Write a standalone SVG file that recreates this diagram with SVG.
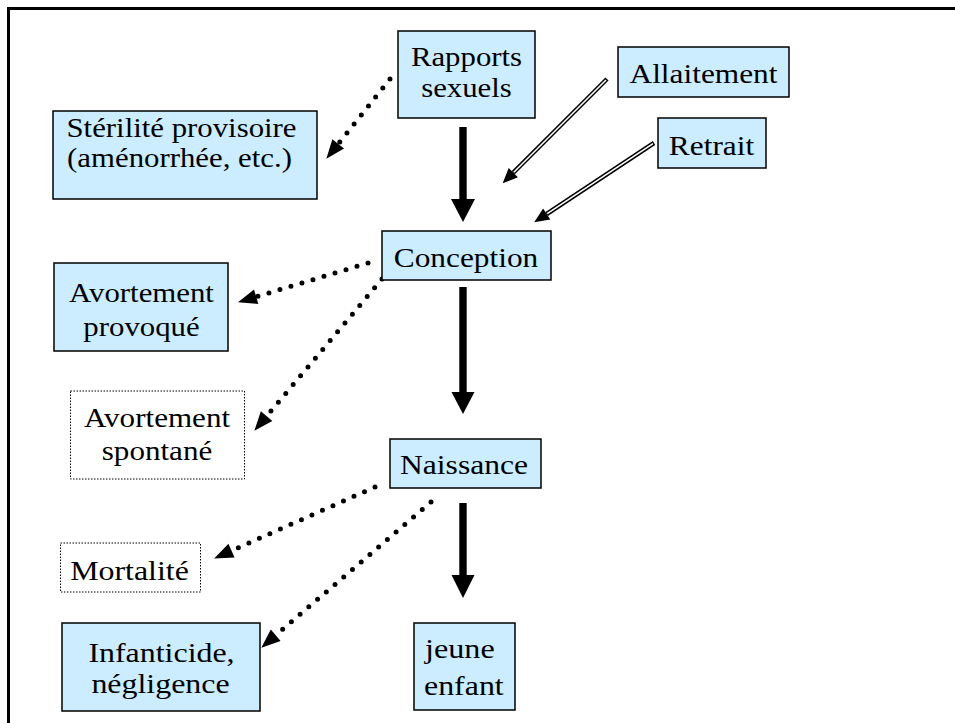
<svg xmlns="http://www.w3.org/2000/svg" width="955" height="723" viewBox="0 0 955 723">
<style>
.bx{fill:#CCECFF;stroke:#000;stroke-width:1.5}
.dbx{fill:#fff;stroke:#000;stroke-width:1;stroke-dasharray:1.5 1.5}
.t{font-family:"Liberation Serif","Times New Roman",serif;font-size:28px;fill:#000;text-anchor:middle}
.ts{text-anchor:start}
.dot{fill:none;stroke:#000;stroke-width:5;stroke-linecap:round;stroke-dasharray:0 11.5}
.dblo{fill:none;stroke:#000;stroke-width:4.5}
.dbli{fill:none;stroke:#fff;stroke-width:1.6}
.thick{fill:#000}
</style>
<defs>
<marker id="dh" markerUnits="userSpaceOnUse" markerWidth="20" markerHeight="16" viewBox="0 -8 19 16" refX="0" refY="0" orient="auto" overflow="visible">
<path d="M0,-7.5 L19,0 L0,7.5 z" fill="#000"/>
</marker>
<marker id="ah" markerUnits="userSpaceOnUse" markerWidth="16" markerHeight="14" viewBox="0 -7 15 14" refX="0" refY="0" orient="auto" overflow="visible">
<path d="M0,-6.5 L15,0 L0,6.5 z" fill="#000"/>
</marker>
</defs>
<rect x="8.5" y="8.5" width="1000" height="1000" fill="#fff" stroke="#000" stroke-width="3"/>

<g id="connectors">
<polygon class="thick" points="459.3,127 466.7,127 466.7,199 475,199 463,222 451,199 459.3,199"/>
<polygon class="thick" points="459.3,287 466.7,287 466.7,392 474.5,392 463,414 451.5,392 459.3,392"/>
<polygon class="thick" points="459.3,503 466.7,503 466.7,575 474.5,575 463,598 451.5,575 459.3,575"/>
<path class="dot" d="M390,79 L338.2,143.9" marker-end="url(#dh)"/>
<path class="dot" d="M368,263 L256.2,296.8" marker-end="url(#dh)"/>
<path class="dot" d="M382,279 L266.6,416.2" marker-end="url(#dh)"/>
<path class="dot" d="M375,487 L231.5,550.7" marker-end="url(#dh)"/>
<path class="dot" d="M431,502 L275.7,635.3" marker-end="url(#dh)"/>
<path class="dblo" d="M607,79 L513.3,172.7" marker-end="url(#ah)"/>
<path class="dbli" d="M606,80 L513.8,172.2"/>
<path class="dblo" d="M654,143 L546.7,214" marker-end="url(#ah)"/>
<path class="dbli" d="M653,143.7 L547.2,213.7"/>
</g>

<g id="rapports">
<rect class="bx" x="398" y="31" width="137" height="87"/>
<text class="t" transform="translate(466.5,66) scale(1.1,1)">Rapports</text>
<text class="t" transform="translate(466.5,97) scale(1.1,1)">sexuels</text>
</g>
<g id="allaitement">
<rect class="bx" x="618" y="47" width="171" height="50"/>
<text class="t" transform="translate(703.5,83) scale(1.12,1)">Allaitement</text>
</g>
<g id="retrait">
<rect class="bx" x="658" y="118" width="108" height="50"/>
<text class="t" transform="translate(711.5,155) scale(1.12,1)">Retrait</text>
</g>
<g id="sterilite">
<rect class="bx" x="53" y="111" width="264" height="88"/>
<text class="t" transform="translate(181.5,137) scale(1.1,1)">Stérilité provisoire</text>
<text class="t" transform="translate(179.5,167) scale(1.1,1)">(aménorrhée, etc.)</text>
</g>
<g id="conception">
<rect class="bx" x="382" y="231" width="169" height="49"/>
<text class="t" transform="translate(466,267) scale(1.12,1)">Conception</text>
</g>
<g id="avortement-provoque">
<rect class="bx" x="54" y="263" width="174" height="88"/>
<text class="t" transform="translate(141.5,302) scale(1.1,1)">Avortement</text>
<text class="t" transform="translate(141.5,336) scale(1.1,1)">provoqué</text>
</g>
<g id="avortement-spontane">
<rect class="dbx" x="70.5" y="391" width="174" height="88"/>
<text class="t" transform="translate(157,427) scale(1.11,1)">Avortement</text>
<text class="t" transform="translate(157,460) scale(1.11,1)">spontané</text>
</g>
<g id="naissance">
<rect class="bx" x="390" y="439" width="151" height="49"/>
<text class="t" transform="translate(464,474) scale(1.13,1)">Naissance</text>
</g>
<g id="mortalite">
<rect class="dbx" x="60.5" y="543" width="140" height="49"/>
<text class="t" transform="translate(129.5,580) scale(1.14,1)">Mortalité</text>
</g>
<g id="infanticide">
<rect class="bx" x="62" y="623" width="198" height="88"/>
<text class="t" transform="translate(161.5,661.5) scale(1.14,1)">Infanticide,</text>
<text class="t" transform="translate(160.5,693) scale(1.14,1)">négligence</text>
</g>
<g id="jeune-enfant">
<rect class="bx" x="414" y="623" width="101" height="87"/>
<text class="t ts" transform="translate(425,658) scale(1.15,1)">jeune</text>
<text class="t ts" transform="translate(424,695) scale(1.14,1)">enfant</text>
</g>
</svg>
